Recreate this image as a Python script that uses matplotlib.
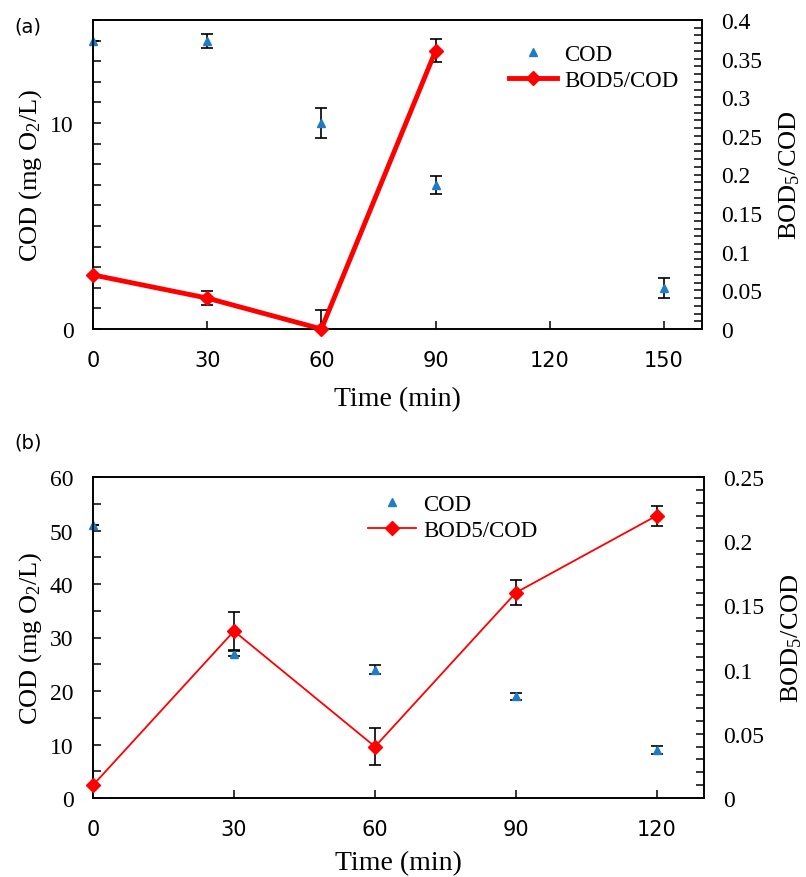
import matplotlib
matplotlib.use("Agg")
import matplotlib.pyplot as plt
from matplotlib.lines import Line2D
from matplotlib.ticker import MultipleLocator, FuncFormatter

# ---- Data panel (a)
time_a = [0, 30, 60, 90, 150]
cod_a = [14.0, 14.0, 10.0, 7.0, 2.0]
cod_a_err = [0.0, 0.34, 0.75, 0.43, 0.5]
time_bod_a = [0, 30, 60, 90]
bod_a = [0.07, 0.04, 0.0, 0.36]
bod_a_err = [0.0, 0.009, 0.024, 0.015]
xticks_a = [0, 30, 60, 90, 120, 150]

# ---- Data panel (b)
time_b = [0, 30, 60, 90, 120]
cod_b = [51.0, 27.0, 24.0, 19.0, 9.0]
cod_b_err = [0.0, 0.5, 0.84, 0.6, 0.8]
bod_b = [0.01, 0.13, 0.04, 0.16, 0.22]
bod_b_err = [0.0, 0.015, 0.0143, 0.0097, 0.0078]
xticks_b = [0, 30, 60, 90, 120]

BLUE = '#1F7BC4'
RED = '#FF0000'
SERIF = 'Liberation Serif'
SANS = 'DejaVu Sans'

plt.rcParams['font.family'] = [SERIF, 'DejaVu Serif']
plt.rcParams['mathtext.fontset'] = 'custom'
plt.rcParams['mathtext.rm'] = SERIF
plt.rcParams['mathtext.it'] = SERIF + ':italic'
plt.rcParams['mathtext.bf'] = SERIF + ':bold'

fig = plt.figure(figsize=(8.06, 8.78), dpi=100)

def gfmt(v, pos):
    return '%g' % v

def style_axes(ax, ax2, xticks, xlim, xlabelpad):
    for a in (ax, ax2):
        for s in a.spines.values():
            s.set_linewidth(1.2)
        a.tick_params(direction='in', which='both', width=1.1, length=6)
    ax.set_xlim(*xlim)
    ax.set_xticks(xticks)
    ax.set_xticklabels([str(v) for v in xticks], family=SANS, fontsize=15)
    ax.tick_params(axis='x', pad=15)
    ax.tick_params(axis='y', labelsize=17, pad=14)
    ax2.tick_params(axis='y', labelsize=17, pad=14)
    ax.set_xlabel('Time (min)', fontsize=20, labelpad=xlabelpad)
    ax.set_ylabel('COD (mg O$_2$/L)', fontsize=19, labelpad=4)
    ax2.set_ylabel('BOD$_5$/COD', fontsize=19, labelpad=11)
    ax2.yaxis.set_major_formatter(FuncFormatter(gfmt))

def draw_panel(rect, t, cod, cod_err, tb, bod, bod_err, ylim, ymaj, ymin,
               y2lim, y2maj, y2min, xticks, xlim, lw, ms, leg_anchor, xlabelpad):
    ax = fig.add_axes(rect)
    ax2 = ax.twinx()
    ax.set_ylim(*ylim)
    ax2.set_ylim(*y2lim)
    ax.yaxis.set_major_locator(MultipleLocator(ymaj))
    ax.yaxis.set_minor_locator(MultipleLocator(ymin))
    ax2.yaxis.set_major_locator(MultipleLocator(y2maj))
    ax2.yaxis.set_minor_locator(MultipleLocator(y2min))
    ax.errorbar(t, cod, yerr=cod_err, fmt='none', ecolor='black',
                elinewidth=1.2, capsize=4, capthick=1.2, zorder=3)
    ax.plot(t, cod, linestyle='none', marker='^', color=BLUE,
            markersize=5.5, clip_on=False, zorder=4)
    ax2.errorbar(tb, bod, yerr=bod_err, fmt='none', ecolor='black',
                 elinewidth=1.2, capsize=4, capthick=1.2, zorder=3)
    ax2.plot(tb, bod, color=RED, linewidth=lw, marker='D', markersize=ms,
             clip_on=False, zorder=5)
    style_axes(ax, ax2, xticks, xlim, xlabelpad)
    h1 = Line2D([], [], linestyle='none', marker='^', color=BLUE, markersize=5.5)
    h2 = Line2D([], [], color=RED, linewidth=lw, marker='D', markersize=ms)
    ax2.legend([h1, h2], ['COD', 'BOD5/COD'], loc='upper left',
               bbox_to_anchor=leg_anchor, frameon=False,
               prop={'size': 16.5}, handlelength=2.1, borderpad=0,
               handletextpad=0.3, labelspacing=0.2, borderaxespad=0)
    return ax, ax2

# panel (a)
draw_panel([93/806, 1-330/878, 609/806, 309/878],
           time_a, cod_a, cod_a_err, time_bod_a, bod_a, bod_a_err,
           (0, 15), 10, 1, (0, 0.4), 0.05, 0.01, xticks_a, (0, 160),
           3.5, 7, ((509-93)/609, (330-45)/309), 12)

# panel (b)
draw_panel([93/806, 1-799/878, 611/806, 321/878],
           time_b, cod_b, cod_b_err, time_b, bod_b, bod_b_err,
           (0, 60), 10, 5, (0, 0.25), 0.05, 0.01, xticks_b, (0, 130),
           1.3, 7, ((368-93)/611, (799-495)/321), 8)

fig.text(14/806, 1-27/878, '(a)', family=SANS, fontsize=14, va='center')
fig.text(14/806, 1-443/878, '(b)', family=SANS, fontsize=14, va='center')

fig.savefig('out.png', dpi=100)
